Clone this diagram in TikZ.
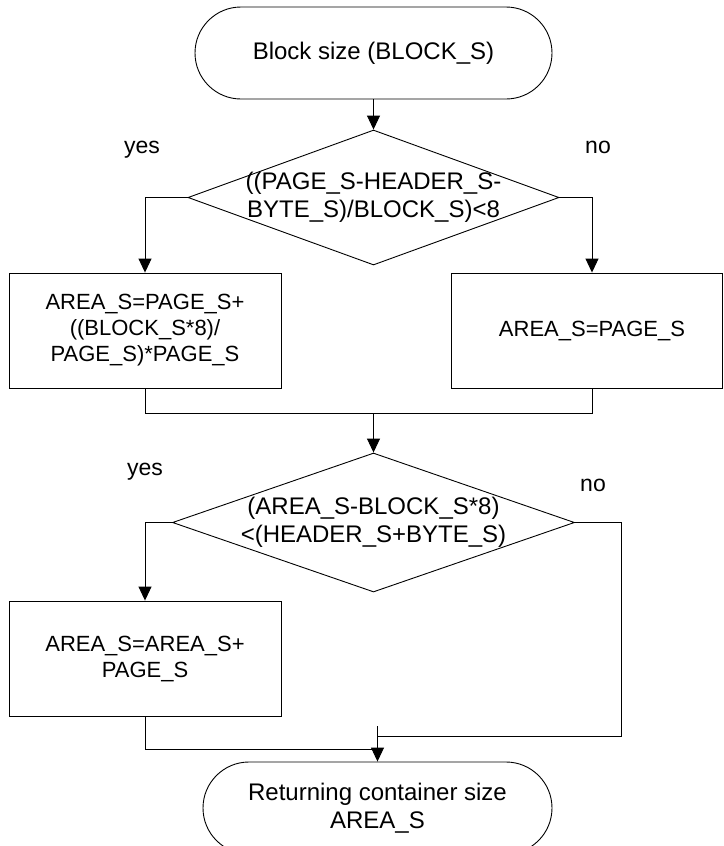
\documentclass[tikz,border=0pt]{standalone}
\usepackage{fontspec}
\setmainfont{Liberation Sans}
\usetikzlibrary{shapes.geometric,arrows.meta,calc}
\begin{document}
\begin{tikzpicture}[x=1pt,y=-1pt,
  line width=0.9pt,
  term/.style={draw, rectangle, rounded corners=46pt, minimum width=#1, minimum height=92pt, inner sep=0pt, align=center, font=\fontsize{24}{28}\selectfont},
  dec/.style={draw, diamond, inner sep=0pt},
  dectext/.style={align=center, inner sep=0pt, font=\fontsize{24}{28}\selectfont},
  proc/.style={draw, rectangle, minimum width=272pt, minimum height=115pt, inner sep=0pt},
  proctext/.style={align=center, inner sep=0pt, font=\fontsize{22}{26}\selectfont},
  lbl/.style={inner sep=0pt, font=\fontsize{23}{27}\selectfont},
  arr/.style={-{Triangle[length=14pt,width=13pt]}},
]
\useasboundingbox (0,0) rectangle (723,846);
\fill[white] (0,0) rectangle (723,846);
\clip (0,0) rectangle (723,846);

% nodes
\node[term=357pt] (start) at (373.5,53) {Block size (BLOCK\_S)};
\node[dec, minimum width=371pt, minimum height=135pt] (d1) at (373.5,197.5) {};
\node[dectext] (d1t) at (d1.center) {((PAGE\_S-HEADER\_S-\\BYTE\_S)/BLOCK\_S)<8};
\node[proc, proctext] (b1) at (145,330.5) {AREA\_S=PAGE\_S+\\((BLOCK\_S*8)/\\PAGE\_S)*PAGE\_S};
\node[proc, minimum width=271.5pt] (b2) at (586.75,330.5) {};
\node[proctext] (b2t) at (592,330.5) {AREA\_S=PAGE\_S};
\node[dec, minimum width=402pt, minimum height=139pt] (d2) at (373.5,522.5) {};
\node[dectext] (d2t) at (d2.center) {(AREA\_S-BLOCK\_S*8)\\<(HEADER\_S+BYTE\_S)};
\node[proc, proctext] (b3) at (145,658.5) {AREA\_S=AREA\_S+\\PAGE\_S};
\node[term=349pt] (stop) at (377.5,808) {Returning container size\\AREA\_S};

% labels
\node[lbl] (y1) at (142,149.5) {yes};
\node[lbl] (n1) at (598,147) {no};
\node[lbl] (y2) at (145,472) {yes};
\node[lbl] (n2) at (593,485) {no};

% helper coordinates
\coordinate (m1) at (373.5,413);
\coordinate (r1) at (621,736);
\coordinate (jL) at (377.5,749);
\coordinate (jT) at (377.5,726);

% connectors
\draw[arr] (start.south) -- (d1.north);
\draw[arr] (d1.west) -| (b1.north);
\draw[arr] (d1.east) -| (b2t.north |- b2.north);
\draw (b1.south) |- (m1);
\draw (b2t.south |- b2.south) |- (m1);
\draw[arr] (m1) -- (d2.north);
\draw[arr] (d2.west) -| (b3.north);
\draw (d2.east) -| (r1) -- (r1 -| stop.north);
\draw (b3.south) |- (jL);
\draw[arr] (jT) -- (stop.north);
\end{tikzpicture}
\end{document}
